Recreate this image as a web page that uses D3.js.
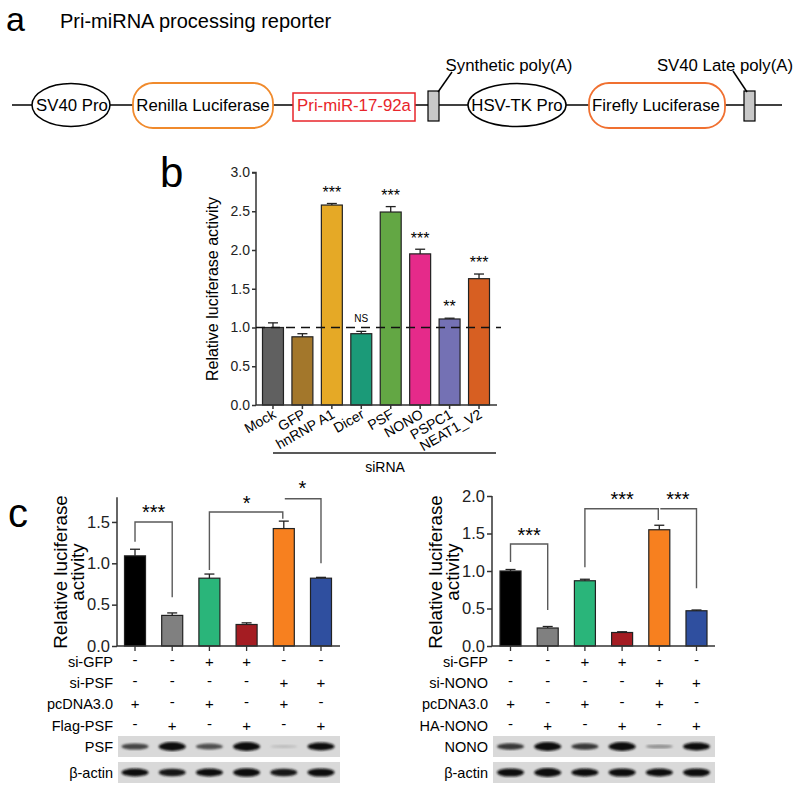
<!DOCTYPE html>
<html><head><meta charset="utf-8">
<script src="https://cdn.jsdelivr.net/npm/d3@7"></script>
<style>body{margin:0;background:#fff}svg{display:block}text{font-family:Arial,"Liberation Sans",Helvetica,sans-serif}</style>
</head><body>
<svg id="fig" width="800" height="791"></svg>
<script>
// ---------- DATA ----------
const bCategories = ["Mock","GFP","hnRNP A1","Dicer","PSF","NONO","PSPC1","NEAT1_V2"];
const bValues = [1.00,0.88,2.58,0.92,2.49,1.95,1.11,1.63];
const bErrors = [0.06,0.04,0.02,0.03,0.07,0.06,0.01,0.06];
const bSig = ["","","***","NS","***","***","**","***"];
const bColors = ["#606060","#a3772b","#e5a926","#1b9a78","#63a744","#e52a8a","#7471b4","#d75f22"];
const bTicks = [0,0.5,1.0,1.5,2.0,2.5,3.0];

const cConds = ["1","2","3","4","5","6"];
const cColors = ["#000000","#808080","#2ab57a","#a41c22","#f7801f","#2f4f9f"];
const cLeftValues = [1.09,0.37,0.82,0.26,1.42,0.82];
const cLeftErrors = [0.08,0.03,0.05,0.02,0.09,0.01];
const cRightValues = [1.00,0.24,0.87,0.18,1.55,0.47];
const cRightErrors = [0.02,0.02,0.02,0.01,0.06,0.01];
const cLeftTicks = [0,0.5,1.0,1.5];
const cRightTicks = [0,0.5,1.0,1.5,2.0];

const leftRowLabels = ["si-GFP","si-PSF","pcDNA3.0","Flag-PSF"];
const rightRowLabels = ["si-GFP","si-NONO","pcDNA3.0","HA-NONO"];
const conditionSigns = [
  ["-","-","+","+","-","-"],
  ["-","-","-","-","+","+"],
  ["+","-","+","-","+","-"],
  ["-","+","-","+","-","+"]
];
const psfBands = [0.6,1.0,0.55,1.0,0.06,0.85];
const nonoBands = [0.65,1.0,0.65,1.0,0.25,0.85];
const actinLeftBands = [0.85,0.8,0.85,0.95,0.8,0.9];
const actinRightBands = [0.9,1.0,0.85,0.9,0.85,0.9];

const diagramParts = ["SV40 Pro","Renilla Luciferase","Pri-miR-17-92a","Synthetic poly(A)","HSV-TK Pro","Firefly Luciferase","SV40 Late poly(A)"];

// ---------- DRAW ----------
const svg = d3.select("#fig");
svg.append("defs").append("filter").attr("id","blur").append("feGaussianBlur").attr("stdDeviation",0.8);

// ===== Panel a =====
svg.append("text").attr("x",6).attr("y",31).attr("font-size",34).text("a");
svg.append("text").attr("x",60).attr("y",28).attr("font-size",20).text("Pri-miRNA processing reporter");
const ly = 105;
const ga = svg.append("g").attr("stroke","#000").attr("stroke-width",1.5);
ga.append("line").attr("x1",12).attr("x2",782).attr("y1",ly).attr("y2",ly);
ga.append("ellipse").attr("cx",71).attr("cy",ly).attr("rx",39).attr("ry",21.5).attr("fill","#fff");
ga.append("ellipse").attr("cx",517).attr("cy",ly).attr("rx",49).attr("ry",21.5).attr("fill","#fff");
ga.append("rect").attr("x",133).attr("y",83).attr("width",140).attr("height",45).attr("rx",20).attr("fill","#fff").attr("stroke","#f08a2c").attr("stroke-width",1.8);
ga.append("rect").attr("x",589).attr("y",83).attr("width",136).attr("height",45).attr("rx",20).attr("fill","#fff").attr("stroke","#f07030").attr("stroke-width",1.8);
ga.append("rect").attr("x",293).attr("y",93).attr("width",122).attr("height",28).attr("fill","#fff").attr("stroke","#e8242a").attr("stroke-width",1.5);
ga.append("rect").attr("x",428).attr("y",91).attr("width",11).attr("height",30).attr("fill","#c8c8c8").attr("stroke-width",1.2);
ga.append("rect").attr("x",744).attr("y",91).attr("width",11).attr("height",30).attr("fill","#c8c8c8").attr("stroke-width",1.2);
ga.append("line").attr("x1",438).attr("y1",92).attr("x2",452).attr("y2",72);
ga.append("line").attr("x1",747).attr("y1",92).attr("x2",733).attr("y2",71);
const ta = svg.append("g").attr("font-size",16.8).attr("text-anchor","middle");
ta.append("text").attr("x",72).attr("y",ly+6).text(diagramParts[0]);
ta.append("text").attr("x",203).attr("y",ly+6).text(diagramParts[1]);
ta.append("text").attr("x",354).attr("y",ly+6).attr("fill","#e8242a").text(diagramParts[2]);
ta.append("text").attr("x",509).attr("y",71).text(diagramParts[3]);
ta.append("text").attr("x",517).attr("y",ly+6).text(diagramParts[4]);
ta.append("text").attr("x",656).attr("y",ly+6).text(diagramParts[5]);
ta.append("text").attr("x",725).attr("y",71).text(diagramParts[6]);

// ===== Panel b =====
svg.append("text").attr("x",160).attr("y",187).attr("font-size",42).text("b");
const bY = d3.scaleLinear().domain([0,3]).range([405,172.5]);
const bX = d3.scaleBand().domain(bCategories).range([262.5,489.5]).paddingInner(0.288).paddingOuter(0);
const axisColor = "#333";
const gb = svg.append("g");
const bYAxis = gb.append("g").attr("transform","translate(256,0)")
  .call(d3.axisLeft(bY).tickValues(bTicks).tickFormat(d3.format(".1f")).tickSize(4).tickPadding(2));
bYAxis.selectAll("text").attr("font-size",14).attr("fill","#222");
bYAxis.selectAll("line,path").attr("stroke",axisColor).attr("stroke-width",1.5);
bYAxis.select("path").attr("d","M-4,172.5H0V405");
gb.selectAll("rect.bar").data(bValues).join("rect")
  .attr("x",(d,i)=>bX(bCategories[i])).attr("width",bX.bandwidth())
  .attr("y",d=>bY(d)).attr("height",d=>bY(0)-bY(d))
  .attr("fill",(d,i)=>bColors[i]).attr("stroke","#222").attr("stroke-width",1.2);
const bErr = gb.append("g").attr("stroke","#222").attr("stroke-width",1.3);
bValues.forEach((v,i)=>{
  const cx = bX(bCategories[i])+bX.bandwidth()/2;
  bErr.append("line").attr("x1",cx).attr("x2",cx).attr("y1",bY(v)).attr("y2",bY(v+bErrors[i]));
  bErr.append("line").attr("x1",cx-5).attr("x2",cx+5).attr("y1",bY(v+bErrors[i])).attr("y2",bY(v+bErrors[i]));
});
gb.append("line").attr("x1",256).attr("x2",497).attr("y1",bY(0)).attr("y2",bY(0)).attr("stroke",axisColor).attr("stroke-width",1.5);
bCategories.forEach((c,i)=>{
  const cx = bX(c)+bX.bandwidth()/2;
  gb.append("line").attr("x1",cx).attr("x2",cx).attr("y1",bY(0)).attr("y2",bY(0)+4).attr("stroke",axisColor).attr("stroke-width",1.5);
  gb.append("text").attr("transform",`translate(${cx+4},${bY(0)+12}) rotate(-30)`)
    .attr("text-anchor","end").attr("font-size",14).text(c);
});
gb.append("line").attr("x1",256).attr("x2",501).attr("y1",bY(1)).attr("y2",bY(1))
  .attr("stroke","#111").attr("stroke-width",1.3).attr("stroke-dasharray","9,6");
bSig.forEach((s,i)=>{
  if(!s) return;
  const cx = bX(bCategories[i])+bX.bandwidth()/2;
  const centerY = bY(bValues[i]+bErrors[i]+(s==="NS"?0.17:0.19));
  gb.append("text").attr("x",cx).attr("y",s==="NS"?centerY+4:centerY+9).attr("text-anchor","middle")
    .attr("font-size",s==="NS"?10:16).text(s);
});
gb.append("text").attr("transform","translate(218,289) rotate(-90)").attr("text-anchor","middle").attr("font-size",16).text("Relative luciferase activity");
gb.append("line").attr("x1",273).attr("x2",496).attr("y1",453).attr("y2",453).attr("stroke","#222").attr("stroke-width",1.3);
gb.append("text").attr("x",385).attr("y",472).attr("text-anchor","middle").attr("font-size",14).text("siRNA");

// ===== Panel c =====
svg.append("text").attr("x",8).attr("y",527).attr("font-size",40).text("c");

function drawC(opts){
  const g = svg.append("g");
  const y = d3.scaleLinear().domain([0,opts.ymax]).range([646,646-opts.ppu*opts.ymax]);
  const x = d3.scaleBand().domain(cConds).range(opts.xr).paddingInner(0.435).paddingOuter(0);
  const ax = g.append("g").attr("transform",`translate(${opts.axX},0)`)
    .call(d3.axisLeft(y).tickValues(opts.ticks).tickFormat(d3.format(".1f")).tickSize(5).tickPadding(2));
  ax.selectAll("text").attr("font-size",16.5).attr("fill","#222");
  ax.selectAll("line,path").attr("stroke",axisColor).attr("stroke-width",1.5);
  ax.select("path").attr("d",`M0,${y(opts.ymax)}V646`);
  const cxs = cConds.map(c=>x(c)+x.bandwidth()/2);
  g.selectAll("rect.bar").data(opts.values).join("rect")
    .attr("x",(d,i)=>x(cConds[i])).attr("width",x.bandwidth())
    .attr("y",d=>y(d)).attr("height",d=>y(0)-y(d))
    .attr("fill",(d,i)=>cColors[i]).attr("stroke","#222").attr("stroke-width",1.2);
  const e = g.append("g").attr("stroke","#222").attr("stroke-width",1.3);
  opts.values.forEach((v,i)=>{
    e.append("line").attr("x1",cxs[i]).attr("x2",cxs[i]).attr("y1",y(v)).attr("y2",y(v+opts.errors[i]));
    e.append("line").attr("x1",cxs[i]-5).attr("x2",cxs[i]+5).attr("y1",y(v+opts.errors[i])).attr("y2",y(v+opts.errors[i]));
  });
  g.append("line").attr("x1",opts.axX).attr("x2",opts.xEnd).attr("y1",646).attr("y2",646).attr("stroke",axisColor).attr("stroke-width",1.5);
  cxs.forEach(cx=>g.append("line").attr("x1",cx).attr("x2",cx).attr("y1",646).attr("y2",651).attr("stroke",axisColor).attr("stroke-width",1.3));
  g.append("text").attr("transform",`translate(${opts.labX},${572}) rotate(-90)`).attr("text-anchor","middle").attr("font-size",18.8).text("Relative luciferase");
  g.append("text").attr("transform",`translate(${opts.labX+17},${572}) rotate(-90)`).attr("text-anchor","middle").attr("font-size",18.8).text("activity");
  const br = g.append("g").attr("stroke","#5a5a5a").attr("stroke-width",1.4).attr("fill","none");
  opts.brackets.forEach(b=>{
    br.append("path").attr("d",`M${cxs[b.a]+(b.offA||0)},${y(b.ya)}V${y(b.top)}H${cxs[b.b]+(b.offB||0)}V${y(b.yb)}`);
    g.append("text").attr("x",(cxs[b.a]+cxs[b.b])/2).attr("y",y(b.top)-b.ty).attr("text-anchor","middle").attr("font-size",20).text(b.label);
  });
  const rows = [662,683,704,726];
  opts.rowLabels.forEach((lab,r)=>{
    g.append("text").attr("x",opts.labRight).attr("y",rows[r]+5).attr("text-anchor","end").attr("font-size",14.5).text(lab);
    conditionSigns[r].forEach((s,i)=>{
      g.append("text").attr("x",cxs[i]).attr("y",rows[r]+(s==="+"?5:3)).attr("text-anchor","middle").attr("font-size",15).text(s);
    });
  });
  const blots = [{y:736,lab:opts.blotLabel,bands:opts.bands},{y:762,lab:"β-actin",bands:opts.actin}];
  blots.forEach(bl=>{
    g.append("rect").attr("x",opts.axX+1).attr("y",bl.y).attr("width",opts.xEnd-opts.axX-1).attr("height",21).attr("fill","#d9d9d9");
    g.append("text").attr("x",opts.labRight).attr("y",bl.y+16).attr("text-anchor","end").attr("font-size",14.5).text(bl.lab);
    bl.bands.forEach((b,i)=>{
      g.append("ellipse").attr("cx",cxs[i]).attr("cy",bl.y+10.5).attr("rx",13.5).attr("ry",1.2+3.2*b)
        .attr("fill",d3.interpolateRgb("#c8c8c8","#111111")(Math.min(1,b*1.2))).attr("filter","url(#blur)");
    });
  });
}

drawC({ymax:1.8,ppu:82.7,xr:[124.5,331.5],axX:117,xEnd:340,ticks:cLeftTicks,values:cLeftValues,errors:cLeftErrors,
  labX:67,labRight:113,rowLabels:leftRowLabels,blotLabel:"PSF",bands:psfBands,actin:actinLeftBands,
  brackets:[{a:0,b:1,ya:1.26,top:1.50,yb:0.59,label:"***",ty:3},
            {a:2,b:4,ya:0.92,top:1.62,yb:1.54,label:"*",ty:2,offB:-1},
            {a:4,b:5,ya:1.78,top:1.78,yb:1.00,label:"*",ty:4,offA:1}]});
drawC({ymax:2.0,ppu:75,xr:[500,707],axX:492,xEnd:715,ticks:cRightTicks,values:cRightValues,errors:cRightErrors,
  labX:442,labRight:488,rowLabels:rightRowLabels,blotLabel:"NONO",bands:nonoBands,actin:actinRightBands,
  brackets:[{a:0,b:1,ya:1.12,top:1.36,yb:0.48,label:"***",ty:2},
            {a:2,b:4,ya:1.05,top:1.83,yb:1.68,label:"***",ty:3,offB:-1},
            {a:4,b:5,ya:1.83,top:1.83,yb:0.77,label:"***",ty:3,offA:1}]});
</script>
</body></html>
